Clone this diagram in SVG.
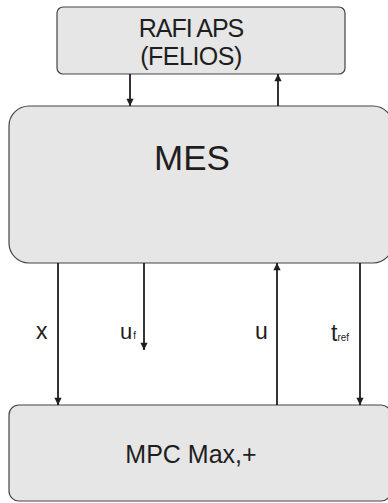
<svg xmlns="http://www.w3.org/2000/svg" width="388" height="503" viewBox="0 0 388 503">
<defs>
<style>
.box{fill:#e6e6e6;stroke:#444;stroke-width:1.2}
.lbl{font-family:"Liberation Sans",Arial,sans-serif;fill:#1e1e1e}
.con{stroke:#1e1e1e;stroke-width:1.8;fill:none}
</style>
<marker id="ah" viewBox="0 0 10 10" refX="10" refY="5" markerWidth="4.5" markerHeight="4" markerUnits="strokeWidth" orient="auto">
<path d="M0,0 L10,5 L0,10 z" fill="#1e1e1e"/>
</marker>
</defs>
<rect width="388" height="503" fill="#fff"/>
<g id="rafi">
<rect class="box" x="57" y="7" width="288" height="67" rx="6"/>
<text class="lbl" x="191" y="37" font-size="25" text-anchor="middle" letter-spacing="-1">RAFI APS</text>
<text class="lbl" x="191" y="65" font-size="25" text-anchor="middle" letter-spacing="-0.5">(FELIOS)</text>
</g>
<g id="mes">
<rect class="box" x="9" y="106" width="384" height="157" rx="20"/>
<text class="lbl" x="192" y="170" font-size="35" text-anchor="middle">MES</text>
</g>
<g id="mpc">
<rect class="box" x="9" y="405" width="382" height="96" rx="10"/>
<text class="lbl" x="191" y="463" font-size="25" text-anchor="middle">MPC Max,+</text>
</g>
<g id="connectors">
<line class="con" x1="130" y1="74" x2="130" y2="106" marker-end="url(#ah)"/>
<line class="con" x1="278" y1="106" x2="278" y2="74" marker-end="url(#ah)"/>
<line class="con" x1="58" y1="263" x2="58" y2="405" marker-end="url(#ah)"/>
<line class="con" x1="144" y1="263" x2="144" y2="350" marker-end="url(#ah)"/>
<line class="con" x1="277" y1="405" x2="277" y2="263" marker-end="url(#ah)"/>
<line class="con" x1="360" y1="263" x2="360" y2="405" marker-end="url(#ah)"/>
<text class="lbl" x="36" y="339" font-size="23">x</text>
<text class="lbl" x="120" y="339" font-size="22" letter-spacing="1">u<tspan font-size="10">f</tspan></text>
<text class="lbl" x="255" y="339" font-size="23">u</text>
<text class="lbl" x="331" y="341" font-size="23">t<tspan font-size="10">ref</tspan></text>
</g>
</svg>
